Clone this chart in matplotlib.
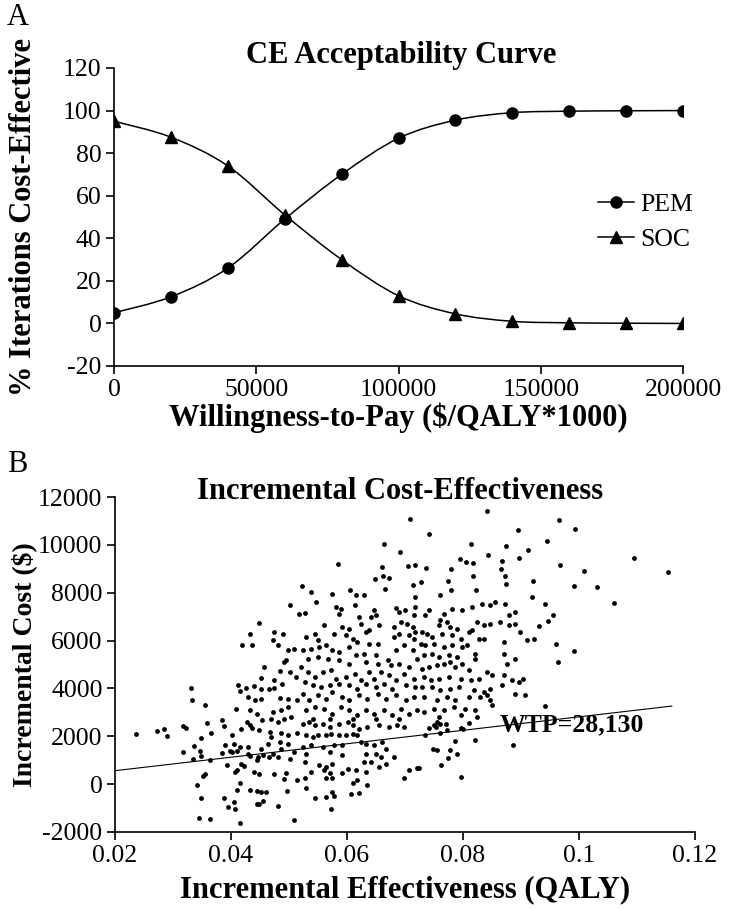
import numpy as np
import matplotlib
matplotlib.use("Agg")
import matplotlib.pyplot as plt
from matplotlib.path import Path
from matplotlib.patches import PathPatch
from matplotlib.lines import Line2D

plt.rcParams['font.family'] = ['Liberation Serif', 'DejaVu Serif']

# ---------------- Panel A data ----------------
wtp_levels = [0, 20000, 40000, 60000, 80000, 100000, 120000, 140000, 160000, 180000, 200000]
pem_pct = [5, 12.5, 26, 49, 70, 87, 95.5, 99, 99.7, 99.9, 100]
soc_pct = [95, 87.5, 74, 51, 30, 13, 4.5, 1, 0.3, 0.1, 0]
a_xticks = [0, 50000, 100000, 150000, 200000]
a_yticks = [-20, 0, 20, 40, 60, 80, 100, 120]

# ---------------- Panel B data (read region by region) ----------------
# upper cloud (cost above ~7700)
top_eff = [0.0842,0.0709,0.0965,0.0993,0.0894,0.0742,0.0945,0.0664,0.0813,0.0875,0.0912,0.0692,0.0843,0.1094,0.0794,0.0896,
           0.0867,0.0805,0.0818,0.0584,0.0706,0.0717,0.0968,0.0661,0.0737,0.0779,0.0866,0.1008,0.1153,0.0817,0.0872,0.0649,
           0.0662,0.0672,0.0774,0.0921,0.0728,0.0714,0.0875,0.0523,0.0992,0.1031,0.0666,0.0823,0.0779,0.0606,0.0538,0.0574,
           0.0615,0.0630,0.0760,0.0919,0.0718]
top_cost = [11433,11098,11056,10665,10637,10456,10177,10037,10037,9940,9800,9702,9590,9437,9409,9437,
            9339,9270,9242,9200,9102,9144,9158,9060,9046,8990,8990,8893,8865,8711,8711,8585,
            8683,8613,8474,8501,8432,8334,8362,8264,8264,8236,8167,8125,8125,8097,8013,7957,
            7915,7887,7887,7804,7818]
# right side (effect above ~0.093)
right_eff = [0.0941,0.1061,0.0956,0.0946,0.0931,0.0961,0.0992,0.0964,0.0941]
right_cost = [7543,7571,7056,6805,6596,5872,5566,5107,3283]
# left side (effect below ~0.052)
left_eff = [0.0502,0.0517,0.0448,0.0433,0.0474,0.0489,0.0473,0.0419,0.0436,0.0481,0.0499,0.0509,0.0492,0.0495,0.0457,0.0485,
            0.0501,0.0512,0.0452,0.0474,0.0488,0.0331,0.0412,0.0425,0.0440,0.0452,0.0465,0.0475,0.0415,0.0333,0.0429,0.0441,
            0.0452,0.0484,0.0498,0.0514,0.0356,0.0409,0.0432,0.0445,0.0472,0.0487,0.0499,0.0385,0.0388,0.0428,0.0432,0.0453,
            0.0469,0.0481,0.0492,0.0504,0.0359,0.0417,0.0436,0.0449,0.0468,0.0487,0.0499,0.0514,0.0236,0.0273,0.0285,0.0290,
            0.0317,0.0323,0.0349,0.0365,0.0401,0.0469,0.0484,0.0336,0.0318,0.0347,0.0389,0.0398,0.0406,0.0415,0.0429,0.0452,
            0.0464,0.0472,0.0487,0.0498,0.0509,0.0335,0.0349,0.0363,0.0385,0.0402,0.0411,0.0429,0.0432,0.0446,0.0455,0.0465,
            0.0481,0.0501,0.0393,0.0418,0.0444,0.0355,0.0351,0.0342,0.0410,0.0407,0.0423,0.0440,0.0448,0.0475,0.0495,0.0492,
            0.0514,0.0415,0.0348,0.0388,0.0411,0.0433,0.0445,0.0452,0.0461,0.0497,0.0395,0.0406,0.0407,0.0444,0.0448,0.0456,
            0.0481,0.0344,0.0364,0.0416,0.0508]
left_cost = [7473,7125,6749,6262,6346,6290,6039,5831,5803,5803,5594,5664,5107,5176,4898,4731,
             4689,4480,4452,4341,4202,4035,4132,4035,4091,3993,3979,4035,3882,3506,3645,3506,
             3576,3603,3548,3506,3297,3158,3088,2949,3019,3116,3228,2699,2434,2601,2490,2699,
             2740,2601,2740,2810,2573,2295,2365,2254,2184,2142,2072,2142,2100,2239,2309,2017,
             2448,2351,1947,2128,2044,1975,1766,1585,1334,1390,1627,1390,1696,1557,1557,1488,
             1669,1278,1488,1696,1348,1070,1167,1028,1306,1334,1404,1278,1167,1140,1209,1140,
             1140,1070,806,861,1000,416,332,-16,583,513,750,513,416,443,471,207,
             165,54,-586,-559,-225,-225,-280,-336,-336,-280,-948,-739,-1018,-837,-809,-725,
             -907,-1422,-1450,-1617,-1505]
# dense core, upper part (effect 0.052-0.072)
core_eff = [0.0547,0.0581,0.0590,0.0613,0.0587,0.0527,0.0647,0.0650,0.0684,0.0690,0.0700,0.0716,0.0718,0.0561,0.0592,0.0604,
            0.0624,0.0621,0.0641,0.0655,0.0633,0.0638,0.0681,0.0693,0.0704,0.0713,0.0718,0.0529,0.0544,0.0550,0.0578,0.0598,
            0.0610,0.0618,0.0638,0.0653,0.0681,0.0690,0.0707,0.0716,0.0524,0.0538,0.0552,0.0564,0.0575,0.0587,0.0604,0.0615,
            0.0630,0.0650,0.0670,0.0684,0.0698,0.0713,0.0721,0.0532,0.0550,0.0567,0.0587,0.0604,0.0633,0.0653,0.0676,0.0690,
            0.0707,0.0521,0.0532,0.0544,0.0558,0.0572,0.0581,0.0598,0.0613,0.0624,0.0638,0.0647,0.0658,0.0673,0.0684,0.0698,
            0.0716,0.0527,0.0541,0.0555,0.0570,0.0587,0.0604,0.0618,0.0633,0.0650,0.0664,0.0678,0.0701,0.0718,0.0524,0.0535,
            0.0550,0.0564,0.0575,0.0592,0.0604,0.0621,0.0635,0.0653,0.0667,0.0684,0.0701,0.0716,0.0529,0.0544,0.0561,0.0575,
            0.0590,0.0604,0.0618,0.0633,0.0647,0.0664,0.0678,0.0693,0.0707,0.0721,0.0541,0.0570,0.0610,0.0650,0.0690]
core_cost = [7612,7404,7334,7473,7097,7153,7264,7056,7376,7195,7264,7056,7404,6638,6568,6499,
             6708,6986,6986,6638,6360,6429,6568,6777,6708,6568,6360,6151,6290,6012,6290,6220,
             6081,5942,5872,5872,6151,6290,6220,6081,5594,5664,5733,5803,5594,5524,5733,5385,
             5455,5385,5176,5594,5803,5594,5246,5246,5316,5246,5176,5037,5107,5037,4968,5037,
             4898,4898,4689,4480,4689,4759,4411,4480,4620,4341,4689,4411,4689,4550,4341,4620,
             4411,4272,4132,4063,4132,4202,4132,3993,4202,4063,4202,3993,4132,4063,3784,3506,
             3715,3576,3854,3645,3506,3715,3576,3784,3576,3715,3506,3645,3088,3228,3158,2949,
             3228,3088,2880,3088,2949,3088,2880,3158,2949,3088,2740,2740,2740,2740,2740]
# dense core, lower part (effect 0.052-0.072, cost below ~2700)
lowcore_eff = [0.0524,0.0535,0.0544,0.0558,0.0570,0.0587,0.0601,0.0610,0.0621,0.0635,0.0655,0.0673,0.0687,0.0698,0.0529,0.0541,
               0.0550,0.0564,0.0572,0.0587,0.0598,0.0610,0.0618,0.0524,0.0538,0.0558,0.0578,0.0592,0.0624,0.0633,0.0647,0.0661,
               0.0667,0.0529,0.0570,0.0592,0.0633,0.0650,0.0658,0.0681,0.0527,0.0552,0.0564,0.0575,0.0630,0.0641,0.0655,0.0667,
               0.0561,0.0570,0.0592,0.0601,0.0615,0.0633,0.0538,0.0527,0.0564,0.0575,0.0610,0.0618,0.0635,0.0529,0.0544,0.0564,
               0.0575,0.0578,0.0607,0.0621,0.0572,0.0698,0.0707,0.0721]
lowcore_cost = [2533,2602,2463,2533,2394,2533,2602,2463,2324,2394,2463,2394,2463,2394,2046,1976,
                2046,2046,2115,2046,2046,2115,2046,1558,1628,1558,1628,1628,1767,1698,1628,1767,
                1489,1280,1350,1210,1280,1280,1141,1141,932,793,723,862,932,932,723,862,
                584,445,445,612,584,514,514,236,236,236,27,166,-42,-182,-599,-530,
                -321,-502,-418,-390,-1059,236,584,681]
# middle band, upper part (effect 0.072-0.093)
mid_eff = [0.0735,0.0741,0.0767,0.0781,0.0798,0.0816,0.0833,0.0847,0.0856,0.0873,0.0890,0.0879,0.0761,0.0758,0.0773,0.0778,
           0.0790,0.0730,0.0738,0.0747,0.0764,0.0781,0.0796,0.0810,0.0824,0.0836,0.0847,0.0864,0.0879,0.0890,0.0816,0.0827,
           0.0836,0.0870,0.0899,0.0910,0.0922,0.0727,0.0735,0.0750,0.0767,0.0781,0.0798,0.0807,0.0821,0.0733,0.0747,
           0.0758,0.0776,0.0790,0.0821,0.0870,0.0876,0.0890,0.0730,0.0741,0.0756,0.0767,0.0778,0.0787,0.0798,0.0810,0.0841,
           0.0850,0.0870,0.0733,0.0744,0.0758,0.0776,0.0796,0.0813,0.0827,0.0884,0.0896,0.0904,0.0730,0.0747,0.0761,0.0778,
           0.0793,0.0819,0.0836,0.0847,0.0867,0.0890,0.0907,0.0733,0.0756,0.0773,0.0787,0.0810,0.0830,0.0841,0.0847,0.0750,
           0.0767,0.0784,0.0804,0.0821,0.0733,0.0850,0.0758,0.0796,0.0824]
mid_cost = [7056,7264,7125,7334,7264,7404,7543,7473,7612,7543,7195,7056,6847,6638,6777,6568,
            6499,6360,6290,6151,6290,6220,6081,6360,6777,6638,6708,6777,6638,6708,6429,6081,
            6081,5942,6360,6012,6081,5872,5803,5872,5733,5803,5733,5803,5455,5385,5455,
            5316,5385,5316,5246,5455,5037,5246,4828,4898,4968,5037,5107,4898,5037,4759,4689,
            4550,4550,4480,4341,4411,4480,4411,4341,4411,4341,4272,4411,4063,4063,3924,3993,
            4063,3924,3854,3993,4132,3784,3715,3645,3506,3645,3506,3645,3645,3715,3506,3158,
            3088,3228,3158,3088,3019,3297,2810,2880,2810]
# middle band, lower part (effect 0.072-0.093, cost below ~2700)
lowmid_eff = [0.0735,0.0741,0.0750,0.0753,0.0756,0.0761,0.0770,0.0760,0.0773,0.0796,0.0800,0.0810,0.0786,0.0821,0.0886,0.0748,
              0.0756,0.0777,0.0790,0.0774,0.0724,0.0762,0.0797]
lowmid_cost = [2046,2366,2463,2394,2602,2533,2505,2143,2254,2366,2296,2561,1809,1865,1656,1489,
               1419,1447,1252,1113,695,793,306]

wtp_value = 28130
wtp_line_x = [0.02, 0.116]
b_xticks = [0.02, 0.04, 0.06, 0.08, 0.10, 0.12]
b_xticklabels = ['0.02', '0.04', '0.06', '0.08', '0.1', '0.12']
b_yticks = [-2000, 0, 2000, 4000, 6000, 8000, 10000, 12000]

inc_eff = top_eff + right_eff + left_eff + core_eff + lowcore_eff + mid_eff + lowmid_eff
inc_cost = top_cost + right_cost + left_cost + core_cost + lowcore_cost + mid_cost + lowmid_cost


def smooth_path(xs, ys):
    """Smoothed line through the points (Catmull-Rom as cubic Beziers, like Excel)."""
    pts = np.column_stack([np.asarray(xs, float), np.asarray(ys, float)])
    n = len(pts)
    verts = [pts[0]]
    codes = [Path.MOVETO]
    for i in range(n - 1):
        p0 = pts[i - 1] if i > 0 else pts[i]
        p1 = pts[i]
        p2 = pts[i + 1]
        p3 = pts[i + 2] if i + 2 < n else pts[i + 1]
        verts += [p1 + (p2 - p0) / 6.0, p2 - (p3 - p1) / 6.0, p2]
        codes += [Path.CURVE4] * 3
    return Path(verts, codes)


W, H = 730, 909
fig = plt.figure(figsize=(W / 100, H / 100), dpi=100)

tick_fs = 18.5
label_fs = 22
title_fs = 22

def fx(px):
    return px / W

def fy(py):
    return 1 - py / H

# ---------------- Panel A ----------------
axA = fig.add_axes([fx(114), fy(366), (683 - 114) / W, (366 - 68) / H])
for ys, mk, ms in [(pem_pct, 'o', 8), (soc_pct, '^', 8.5)]:
    axA.add_patch(PathPatch(smooth_path(wtp_levels, ys), fill=False, edgecolor='black', lw=1.1))
    axA.plot(wtp_levels, ys, linestyle='none', marker=mk, color='black', markersize=ms)
axA.set_xlim(0, 200000)
axA.set_ylim(-20, 120)
axA.set_xticks(a_xticks)
axA.set_yticks(a_yticks)
axA.set_xticklabels([str(v) for v in a_xticks])
axA.set_yticklabels([str(v) for v in a_yticks])
axA.set_xlabel('Willingness-to-Pay ($/QALY*1000)', fontsize=label_fs, fontweight='bold')
axA.set_ylabel('% Iterations Cost-Effective', fontsize=label_fs, fontweight='bold')
axA.xaxis.set_label_coords(0.5, (366 - 418) / 298)
axA.xaxis.label.set_va('center')
axA.yaxis.set_label_coords((24 - 114) / 569, 0.5)
axA.yaxis.label.set_va('center')
handles = [Line2D([], [], color='black', lw=1.1, marker='o', markersize=8),
           Line2D([], [], color='black', lw=1.1, marker='^', markersize=8.5)]
axA.legend(handles, ['PEM', 'SOC'], loc='center left', bbox_to_anchor=((598 - 114) / 569, (366 - 222) / 298),
           frameon=False, fontsize=tick_fs, handlelength=1.4, handletextpad=0.25, labelspacing=0.45,
           borderpad=0, borderaxespad=0)
fig.text(fx(401), fy(63), 'CE Acceptability Curve', fontsize=title_fs, fontweight='bold',
         ha='center', va='baseline')

# ---------------- Panel B ----------------
axB = fig.add_axes([fx(115), fy(832), (695 - 115) / W, (832 - 497) / H])
axB.scatter(inc_eff, inc_cost, s=12, color='black', linewidths=0)
line_x = np.array(wtp_line_x)
axB.plot(line_x, wtp_value * line_x, color='black', lw=0.8)
axB.text(0.0863, 2460, 'WTP=28,130', fontsize=tick_fs, fontweight='bold', va='center', ha='left')
axB.set_xlim(0.02, 0.12)
axB.set_ylim(-2000, 12000)
axB.set_xticks(b_xticks)
axB.set_xticklabels(b_xticklabels)
axB.set_yticks(b_yticks)
axB.set_yticklabels([str(v) for v in b_yticks])
axB.set_xlabel('Incremental Effectiveness (QALY)', fontsize=label_fs, fontweight='bold')
axB.set_ylabel('Incremental Cost ($)', fontsize=20, fontweight='bold')
axB.xaxis.set_label_coords(0.5, (832 - 890) / 335)
axB.xaxis.label.set_va('center')
axB.yaxis.set_label_coords((24 - 115) / 580, 0.5)
axB.yaxis.label.set_va('center')
fig.text(fx(400), fy(499), 'Incremental Cost-Effectiveness', fontsize=title_fs, fontweight='bold',
         ha='center', va='baseline')

for ax in (axA, axB):
    for side in ('top', 'right'):
        ax.spines[side].set_visible(False)
    for side in ('left', 'bottom'):
        ax.spines[side].set_linewidth(1.2)
        ax.spines[side].set_color('black')
    ax.tick_params(direction='out', length=6, width=1.2, labelsize=tick_fs, colors='black', pad=3)

fig.text(fx(7), fy(25), 'A', fontsize=22, va='baseline', ha='left')
fig.text(fx(7), fy(472), 'B', fontsize=22, va='baseline', ha='left')

fig.savefig('out.png', dpi=100)
